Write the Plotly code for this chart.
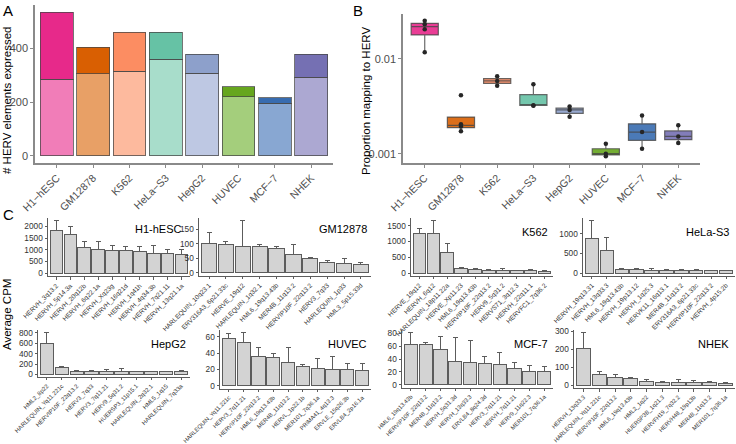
import numpy as np
import plotly.graph_objects as go

W, H = 736, 444
FONT = "Liberation Sans, Arial, sans-serif"
TICKC = "#4d4d4d"


def px(x):
    return x / W


def py(y):
    return 1 - y / H


# ---------------- data: panel A ----------------
cell_lines = ["H1-hESC", "GM12878", "K562", "HeLa-S3", "HepG2", "HUVEC", "MCF-7", "NHEK"]
cell_tick_labels = ["H1−hESC", "GM12878", "K562", "HeLa−S3", "HepG2", "HUVEC", "MCF−7", "NHEK"]
n_lower = [285, 305, 315, 360, 308, 220, 195, 292]
n_upper = [250, 100, 145, 100, 70, 38, 22, 86]
col_dark = ["#E7298A", "#D95F02", "#FC8D62", "#66C2A5", "#8DA0CB", "#66A61E", "#386CB0", "#7570B3"]
col_light = ["#F17DB8", "#E8A066", "#FDBA9E", "#A8DDCB", "#BEC8E3", "#A4CE7C", "#88A7D2", "#ACA8D2"]

# ---------------- data: panel B ----------------
prop_h1 = [0.0118, 0.0206, 0.0233, 0.0253]
prop_gm = [0.00172, 0.00194, 0.00204, 0.00415]
prop_k562 = [0.0052, 0.00586, 0.00658]
prop_hela = [0.0032, 0.00325, 0.00542]
prop_hepg2 = [0.00245, 0.0029, 0.00315]
prop_huvec = [0.00094, 0.0010, 0.00127]
prop_mcf7 = [0.00113, 0.00169, 0.00253]
prop_nhek = [0.0013, 0.00152, 0.00199]
prop_all = [prop_h1, prop_gm, prop_k562, prop_hela, prop_hepg2, prop_huvec, prop_mcf7, prop_nhek]

# ---------------- data: panel C ----------------
h1_names = ["HERVH_3q13.2", "HERVH_5p14.3a", "HERVH_20q12b", "HERVH_6q22.1a", "HERVH_Xq23g",
            "HERVH_16q21d", "HERVH_1q41h", "HERVH_4q34.3b", "HERVH_7q21.11", "HERVH_13q21.1a"]
h1_mean = [1820, 1650, 1110, 1000, 980, 950, 920, 860, 830, 790]
h1_upper = [2250, 1990, 1340, 1340, 1200, 1120, 1120, 1170, 1030, 1020]

gm_names = ["HARLEQUIN_10q23.1", "ERV316A3_6p21.33c", "HERVE_19q12", "HARLEQUIN_1q32.1", "HML6_19q13.43b",
            "MER4B_11q13.2", "HERVIP10F_22q13.2", "HERV3_7q33", "HARLEQUIN_1p33", "HML3_5p15.33d"]
gm_mean = [99, 96, 92, 89, 84, 62, 48, 34, 32, 30]
gm_upper = [138, 108, 180, 98, 91, 98, 53, 43, 50, 37]

k562_names = ["HERVE_19q12", "HERVH_6q12", "HARLEQUIN_18p11.22a", "HERVE_Xp11.23", "HML6_19q13.43b",
              "HERVIP10F_22q13.2", "HERV9_5q31.2", "HERVS71_3q12.3", "HERVH_22q11.1", "HERVFC1_7q36.2"]
k562_mean = [1255, 1240, 650, 160, 118, 88, 86, 76, 76, 56]
k562_upper = [1420, 1670, 940, 178, 145, 112, 145, 96, 104, 92]

hela_names = ["HERVH_19q13.31", "HERVH_13q33.3", "HML6_19q13.43b", "HERVH_19p13.12", "HERVH_1q25.3",
              "HERVK11_16q13.1", "MER4B_11q13.2", "ERV316A3_6p21.33c", "HERVIP10F_22q13.2", "HERVH_4p15.2b"]
hela_mean = [870, 570, 100, 78, 76, 60, 58, 58, 56, 54]
hela_upper = [1340, 900, 118, 108, 108, 78, 100, 78, 76, 76]

hepg2_names = ["HML2_8p22", "HARLEQUIN_Yq11.221c", "HERVIP10F_22q13.2", "HERV3_7q33", "HERV3_7q11.21",
               "HERV9_5q31.2", "HUERSP3_11p15.1", "HARLEQUIN_2q32.1", "HML5_1q15", "HARLEQUIN_7q33a"]
hepg2_mean = [600, 142, 68, 64, 62, 60, 56, 50, 50, 50]
hepg2_upper = [810, 152, 76, 80, 88, 110, 60, 56, 56, 74]

huvec_names = ["HARLEQUIN_Yq11.221c", "HERV3_7q11.21", "HERVIP10F_22q13.2", "HML6_19q13.43b", "MER4B_11q13.2",
               "HERVL_1p22.1b", "MER101_7q36.1a", "PRIMA41_4q13.3", "ERVLE_15q26.3b", "ERVLB4_2p16.1a"]
huvec_mean = [58, 53, 35.5, 35, 28.5, 23.5, 21.5, 20.5, 19.5, 19]
huvec_upper = [64, 65, 47, 40, 47, 26, 34, 36, 27.5, 27.5]

mcf7_names = ["HML6_19q13.43b", "HERVIP10F_22q13.2", "MER4B_11q13.2", "HERVH_5q31.3d", "HERVH_13q33.3",
              "ERVLB4_8q24.3d", "HERV3_7q11.21", "HERVH_7q11.21", "HERV9_11q22.3", "MER101_7q36.1a"]
mcf7_mean = [63, 62, 54.5, 37, 34.5, 33, 31, 25, 21.5, 20.5]
mcf7_upper = [81, 66, 74.5, 74, 69, 44.5, 49.5, 34, 29.5, 28.5]

nhek_names = ["HERVH_13q33.3", "HARLEQUIN_Yq11.221c", "HERVIP10F_22q13.2", "HML6_19q13.43b", "HML2_1q22",
              "HUERSP3B_1q21.3", "HERVFH19_7q32.2", "HERVH48_19p13b", "MER4B_11q13.2", "MER101_7q36.1a"]
nhek_mean = [205, 62, 46, 37, 22, 17, 17, 16, 14, 11]
nhek_upper = [292, 76, 59, 42, 33, 19, 30, 26, 20, 14]

c_data = [
    ("H1-hESC", h1_names, h1_mean, h1_upper),
    ("GM12878", gm_names, gm_mean, gm_upper),
    ("K562", k562_names, k562_mean, k562_upper),
    ("HeLa-S3", hela_names, hela_mean, hela_upper),
    ("HepG2", hepg2_names, hepg2_mean, hepg2_upper),
    ("HUVEC", huvec_names, huvec_mean, huvec_upper),
    ("MCF-7", mcf7_names, mcf7_mean, mcf7_upper),
    ("NHEK", nhek_names, nhek_mean, nhek_upper),
]

# panel geometry in pixels: (left, right, top, bottom, y tick step, title y, title right, x-label size)
c_geom = [
    (48, 190, 217.7, 276, 500, 229, 184, 6.5),
    (199, 371, 217.7, 275.5, 50, 229, 369, 6.5),
    (411, 553, 217.7, 275.7, 500, 232, 550, 6.5),
    (583, 735, 217.7, 275.7, 500, 232, 731, 6.5),
    (38, 190, 330, 376.7, 200, 344, 188, 6.0),
    (220, 371, 330, 388.5, 20, 344, 369, 5.8),
    (402, 553, 330, 387.5, 20, 344, 550, 5.8),
    (574, 735, 330, 388, 100, 344, 731, 5.8),
]

fig = go.Figure()
layout = dict(
    template="none",
    width=W, height=H, margin=dict(l=0, r=0, t=0, b=0, pad=0, autoexpand=False),
    paper_bgcolor="white", plot_bgcolor="white",
    font=dict(family=FONT, color="black"),
    barmode="stack", boxmode="overlay", showlegend=False,
)

# ---------------- Panel A ----------------
bar_line = dict(color="rgba(70,70,70,0.75)", width=1)
fig.add_trace(go.Bar(x=cell_lines, y=n_lower, width=0.9,
                     marker=dict(color=col_light, line=bar_line), xaxis="x", yaxis="y"))
fig.add_trace(go.Bar(x=cell_lines, y=n_upper, width=0.9,
                     marker=dict(color=col_dark, line=bar_line), xaxis="x", yaxis="y"))
tot_max = max(a + b for a, b in zip(n_lower, n_upper))
layout["xaxis"] = dict(domain=[px(35), px(333)], anchor="y", type="category", automargin=False,
                       range=[-0.6, len(cell_lines) - 0.4], showline=True, linecolor="#8a8a8a", linewidth=1.5,
                       ticks="outside", ticklen=3, tickcolor="#8a8a8a", tickangle=-45,
                       tickmode="array", tickvals=cell_lines, ticktext=cell_tick_labels,
                       tickfont=dict(size=10.5, color=TICKC), showgrid=False, zeroline=False)
layout["yaxis"] = dict(domain=[py(163), py(5)], anchor="x", automargin=False,
                       range=[-0.05 * tot_max, 1.05 * tot_max], showline=True, linecolor="#8a8a8a", linewidth=1.5,
                       ticks="outside", ticklen=3, tickcolor="#8a8a8a", dtick=200, tick0=0,
                       tickfont=dict(size=11, color=TICKC), showgrid=False, zeroline=False)

# ---------------- Panel B ----------------
all_log = []
for name, vals, fc in zip(cell_lines, prop_all, col_dark):
    lv = np.log10(np.array(vals))
    all_log.extend(lv.tolist())
    q1, med, q3 = np.percentile(lv, [25, 50, 75])
    iqr = q3 - q1
    lo = min(lv[lv >= q1 - 1.5 * iqr].min(), q1)
    hi = max(lv[lv <= q3 + 1.5 * iqr].max(), q3)
    fig.add_trace(go.Box(x=[name], q1=[10 ** q1], median=[10 ** med], q3=[10 ** q3],
                         lowerfence=[10 ** lo], upperfence=[10 ** hi], width=0.75,
                         fillcolor=fc, opacity=0.9, line=dict(color="rgba(50,50,50,0.8)", width=1.2),
                         whiskerwidth=0, xaxis="x2", yaxis="y2"))
    fig.add_trace(go.Scatter(x=[name] * len(vals), y=vals, mode="markers",
                             marker=dict(color="#262626", size=4.5), xaxis="x2", yaxis="y2"))
lmin, lmax = min(all_log), max(all_log)
lpad = 0.05 * (lmax - lmin)
layout["xaxis2"] = dict(domain=[px(403), px(700)], anchor="y2", type="category", automargin=False,
                        range=[-0.6, len(cell_lines) - 0.4], showline=True, linecolor="#8a8a8a", linewidth=1.5,
                        ticks="outside", ticklen=3, tickcolor="#8a8a8a", tickangle=-45,
                        tickmode="array", tickvals=cell_lines, ticktext=cell_tick_labels,
                        tickfont=dict(size=10.5, color=TICKC), showgrid=False, zeroline=False)
layout["yaxis2"] = dict(domain=[py(163), py(14)], anchor="x2", type="log", automargin=False,
                        range=[lmin - lpad, lmax + lpad], showline=True, linecolor="#8a8a8a", linewidth=1.5,
                        ticks="outside", ticklen=3, tickcolor="#8a8a8a",
                        tickmode="array", tickvals=[0.001, 0.01], ticktext=["0.001", "0.01"],
                        tickfont=dict(size=11, color=TICKC), showgrid=False, zeroline=False)

# ---------------- Panel C ----------------
annotations = []
for i, ((title, names, mean, upper), (l, r, t, b, dt, ty, tr, fs)) in enumerate(zip(c_data, c_geom)):
    k = i + 3
    xa, ya = f"x{k}", f"y{k}"
    err = [u - m for u, m in zip(upper, mean)]
    fig.add_trace(go.Bar(x=names, y=mean, width=0.9,
                         marker=dict(color="#D3D3D3", line=dict(color="#5c5c5c", width=1)),
                         error_y=dict(type="data", symmetric=False, array=err, arrayminus=[0] * len(err),
                                      color="#5c5c5c", thickness=1, width=2.5),
                         xaxis=xa, yaxis=ya))
    m = max(upper)
    layout[f"xaxis{k}"] = dict(domain=[px(l), px(r)], anchor=ya, type="category", automargin=False,
                               range=[-0.6, len(names) - 0.4], showline=True, linecolor="#5c5c5c", linewidth=1,
                               ticks="outside", ticklen=2.5, tickcolor="#5c5c5c", tickangle=-45,
                               tickmode="array", tickvals=names, ticktext=names,
                               tickfont=dict(size=fs, color="#333333"), showgrid=False, zeroline=False)
    layout[f"yaxis{k}"] = dict(domain=[py(b), py(t)], anchor=xa, automargin=False,
                               range=[-0.05 * m, 1.05 * m], showline=True, linecolor="#5c5c5c", linewidth=1,
                               ticks="outside", ticklen=2.5, tickcolor="#5c5c5c", dtick=dt, tick0=0,
                               tickfont=dict(size=8.3, color="#333333"), showgrid=False, zeroline=False)
    annotations.append(dict(text=title, x=px(tr), y=py(ty), xref="paper", yref="paper",
                            xanchor="right", yanchor="middle", showarrow=False,
                            font=dict(size=11, color="black")))

# panel letters and axis titles
annotations += [
    dict(text="A", x=px(1), y=py(0), xanchor="left", yanchor="top", font=dict(size=15)),
    dict(text="B", x=px(351), y=py(0), xanchor="left", yanchor="top", font=dict(size=15)),
    dict(text="C", x=px(1), y=py(204), xanchor="left", yanchor="top", font=dict(size=15)),
    dict(text="# HERV elements expressed", x=px(7), y=py(101), textangle=-90,
         xanchor="center", yanchor="middle", font=dict(size=11.5)),
    dict(text="Proportion mapping to HERV", x=px(366), y=py(101), textangle=-90,
         xanchor="center", yanchor="middle", font=dict(size=11.5)),
    dict(text="Average CPM", x=px(7), y=py(315), textangle=-90,
         xanchor="center", yanchor="middle", font=dict(size=11.5)),
]
for a in annotations:
    a.setdefault("xref", "paper")
    a.setdefault("yref", "paper")
    a.setdefault("showarrow", False)
layout["annotations"] = annotations

fig.update_layout(**layout)
fig.write_html("out.html", config={"displayModeBar": False},
               post_script="document.body.style.margin='0';document.body.style.overflow='hidden';")
